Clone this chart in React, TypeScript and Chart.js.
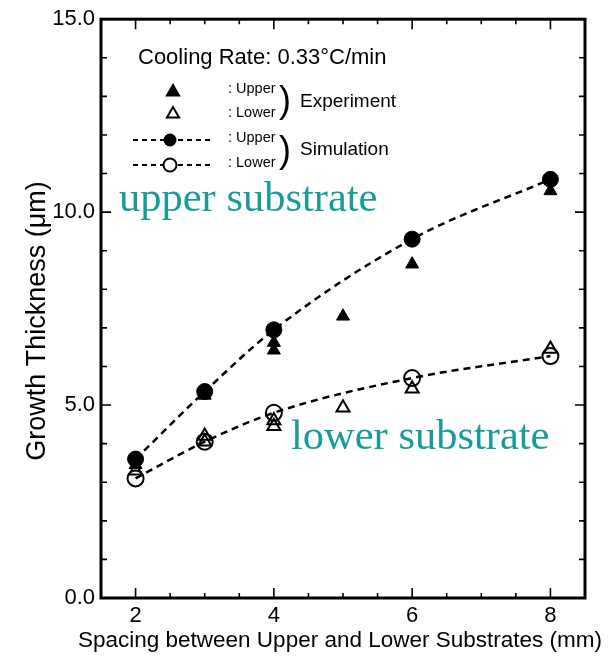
import React, { useEffect, useRef } from 'react';
import { Chart, registerables } from 'chart.js';

Chart.register(...registerables);

// ---- data ----
const simX = [2, 3, 4, 6, 8];
const simUpper = [3.6, 5.35, 6.95, 9.3, 10.85];
const simLower = [3.1, 4.05, 4.8, 5.7, 6.27];

const expUpperX = [2, 3, 4, 4, 5, 6, 8];
const expUpperY = [3.45, 5.25, 6.62, 6.42, 7.3, 8.65, 10.55];
const expLowerX = [2, 3, 3, 4, 4, 5, 6, 8];
const expLowerY = [3.3, 4.2, 4.05, 4.6, 4.45, 4.93, 5.42, 6.45];

const xTickLabels = [2, 4, 6, 8];
const xMinorTicks = [2.5, 3, 3.5, 4.5, 5, 5.5, 6.5, 7, 7.5];
const yTickLabels = [0, 5, 10, 15];
const yMinorTicks = [1, 2, 3, 4, 6, 7, 8, 9, 11, 12, 13, 14];

const xTitle = 'Spacing between Upper and Lower Substrates (mm)';
const yTitle = 'Growth Thickness (\u03BCm)';

const SANS = "'Liberation Sans', Arial, Helvetica, sans-serif";
const SERIF = "'Liberation Serif', 'Times New Roman', serif";
const TEAL = '#189c9a';

const toPoints = (xs: number[], ys: number[]) => xs.map((x, i) => ({ x, y: ys[i] }));

const framePlugin = {
  id: 'frame',
  beforeDatasetsDraw(chart: any) {
    const { ctx, chartArea: a, scales } = chart;
    const xs = scales.x;
    const ys = scales.y;
    ctx.save();
    ctx.strokeStyle = '#000';
    ctx.lineWidth = 3;
    ctx.strokeRect(a.left, a.top, a.right - a.left, a.bottom - a.top);
    ctx.lineWidth = 1.6;
    const tickX = (v: number, len: number) => {
      const px = xs.getPixelForValue(v);
      ctx.beginPath();
      ctx.moveTo(px, a.bottom);
      ctx.lineTo(px, a.bottom - len);
      ctx.moveTo(px, a.top);
      ctx.lineTo(px, a.top + len);
      ctx.stroke();
    };
    const tickY = (v: number, len: number) => {
      const py = ys.getPixelForValue(v);
      ctx.beginPath();
      ctx.moveTo(a.left, py);
      ctx.lineTo(a.left + len, py);
      ctx.moveTo(a.right, py);
      ctx.lineTo(a.right - len, py);
      ctx.stroke();
    };
    xTickLabels.forEach((v) => tickX(v, 10));
    xMinorTicks.forEach((v) => tickX(v, 5));
    yTickLabels.forEach((v) => tickY(v, 10));
    yMinorTicks.forEach((v) => tickY(v, 6));
    ctx.restore();
  },
  afterDraw(chart: any) {
    const { ctx } = chart;
    ctx.save();
    ctx.fillStyle = '#000';
    ctx.strokeStyle = '#000';
    ctx.textBaseline = 'middle';

    // axis titles (drawn freely so they may extend past the plot width)
    ctx.textAlign = 'center';
    ctx.font = `22.5px ${SANS}`;
    ctx.fillText(xTitle, 340, 641);
    ctx.save();
    ctx.translate(38, 321);
    ctx.rotate(-Math.PI / 2);
    ctx.font = `27px ${SANS}`;
    ctx.fillText(yTitle, 0, 0);
    ctx.restore();

    ctx.textAlign = 'left';
    // title inside plot
    ctx.font = `22px ${SANS}`;
    ctx.fillText('Cooling Rate: 0.33\u00B0C/min', 138, 58);

    // legend symbols
    const tri = (cx: number, cy: number, r: number, filled: boolean) => {
      ctx.beginPath();
      ctx.moveTo(cx, cy - r);
      ctx.lineTo(cx + r * 0.866, cy + r * 0.5);
      ctx.lineTo(cx - r * 0.866, cy + r * 0.5);
      ctx.closePath();
      if (filled) ctx.fill();
      ctx.lineWidth = 2;
      ctx.stroke();
    };
    tri(173, 92, 7, true);
    tri(173, 114, 7, false);

    const dashLine = (x1: number, x2: number, y: number) => {
      ctx.beginPath();
      ctx.setLineDash([5, 4]);
      ctx.lineWidth = 2;
      ctx.moveTo(x1, y);
      ctx.lineTo(x2, y);
      ctx.stroke();
      ctx.setLineDash([]);
    };
    dashLine(133, 212, 140);
    dashLine(133, 212, 165);
    ctx.beginPath();
    ctx.arc(170, 140, 6.5, 0, Math.PI * 2);
    ctx.fill();
    ctx.beginPath();
    ctx.arc(170, 165, 6.5, 0, Math.PI * 2);
    ctx.fillStyle = '#fff';
    ctx.fill();
    ctx.lineWidth = 2;
    ctx.stroke();
    ctx.fillStyle = '#000';

    ctx.font = `14.5px ${SANS}`;
    ctx.fillText(': Upper', 228, 89);
    ctx.fillText(': Lower', 228, 113);
    ctx.fillText(': Upper', 228, 138);
    ctx.fillText(': Lower', 228, 163);

    ctx.font = `36px ${SANS}`;
    ctx.fillText(')', 279, 102);
    ctx.fillText(')', 279, 152);

    ctx.font = `19px ${SANS}`;
    ctx.fillText('Experiment', 300, 102);
    ctx.fillText('Simulation', 300, 150);

    // teal annotations
    ctx.fillStyle = TEAL;
    ctx.font = `42.5px ${SERIF}`;
    ctx.fillText('upper substrate', 119, 200);
    ctx.fillText('lower substrate', 291, 438);
    ctx.restore();
  },
};

export default function App() {
  const ref = useRef<HTMLCanvasElement | null>(null);

  useEffect(() => {
    document.body.style.margin = '0';
    const canvas = ref.current;
    if (!canvas) return;
    const chart = new Chart(canvas, {
      type: 'scatter',
      data: {
        datasets: [
          {
            label: 'Experiment Upper',
            data: toPoints(expUpperX, expUpperY),
            pointStyle: 'triangle',
            pointRadius: 7.5,
            backgroundColor: '#000',
            borderColor: '#000',
            borderWidth: 1,
            order: 0,
          },
          {
            label: 'Experiment Lower',
            data: toPoints(expLowerX, expLowerY),
            pointStyle: 'triangle',
            pointRadius: 7.5,
            backgroundColor: 'rgba(255,255,255,0)',
            borderColor: '#000',
            borderWidth: 2,
            order: 0,
          },
          {
            type: 'line',
            label: 'Simulation Upper',
            data: toPoints(simX, simUpper),
            showLine: true,
            cubicInterpolationMode: 'monotone',
            borderColor: '#000',
            borderWidth: 2.5,
            borderDash: [7, 5],
            pointStyle: 'circle',
            pointRadius: 8,
            pointBackgroundColor: '#000',
            pointBorderColor: '#000',
            pointBorderWidth: 1,
            fill: false,
            order: 1,
          },
          {
            type: 'line',
            label: 'Simulation Lower',
            data: toPoints(simX, simLower),
            showLine: true,
            cubicInterpolationMode: 'monotone',
            borderColor: '#000',
            borderWidth: 2.5,
            borderDash: [7, 5],
            pointStyle: 'circle',
            pointRadius: 8,
            pointBackgroundColor: 'rgba(255,255,255,0)',
            pointBorderColor: '#000',
            pointBorderWidth: 2,
            fill: false,
            order: 1,
          },
        ],
      } as any,
      options: {
        animation: false,
        responsive: false,
        devicePixelRatio: 1,
        layout: { padding: { top: 17, right: 23, left: 0, bottom: 0 } },
        plugins: {
          legend: { display: false },
          tooltip: { enabled: false },
          title: { display: false },
        },
        scales: {
          x: {
            type: 'linear',
            min: 1.5,
            max: 8.5,
            grid: { display: false, drawTicks: false },
            border: { display: false },
            afterBuildTicks: (s: any) => {
              s.ticks = xTickLabels.map((v) => ({ value: v }));
            },
            afterFit: (s: any) => {
              s.height = 69;
            },
            ticks: {
              color: '#000',
              padding: 5,
              font: { family: SANS, size: 22 },
              callback: (v: any) => String(v),
            },
            title: { display: false },
          },
          y: {
            type: 'linear',
            min: 0,
            max: 15,
            grid: { display: false, drawTicks: false },
            border: { display: false },
            afterBuildTicks: (s: any) => {
              s.ticks = yTickLabels.map((v) => ({ value: v }));
            },
            afterFit: (s: any) => {
              s.width = 101;
            },
            ticks: {
              color: '#000',
              padding: 6,
              font: { family: SANS, size: 22 },
              callback: (v: any) => Number(v).toFixed(1),
            },
            title: { display: false },
          },
        },
      } as any,
      plugins: [framePlugin],
    });
    return () => chart.destroy();
  }, []);

  return (
    <div style={{ width: 608, height: 667 }}>
      <canvas ref={ref} width={608} height={667} style={{ display: 'block' }} />
    </div>
  );
}
